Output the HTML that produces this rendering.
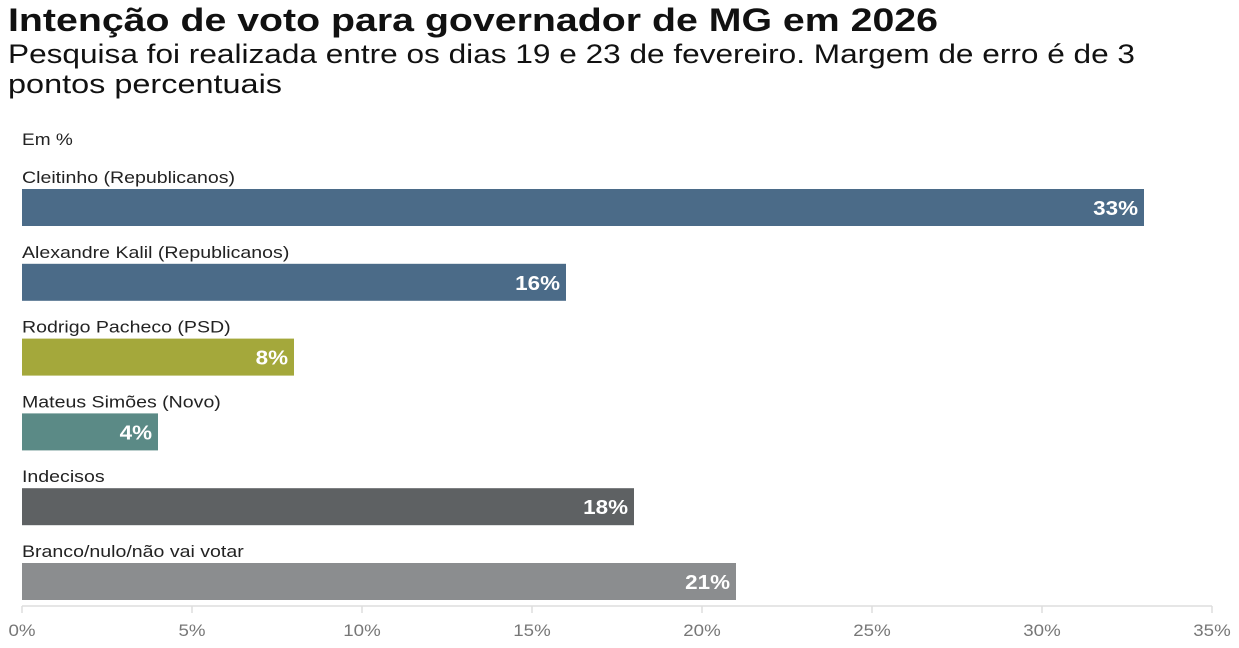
<!DOCTYPE html>
<html><head><meta charset="utf-8"><style>
body{margin:0;width:1239px;height:648px;background:#fff;overflow:hidden;font-family:"Liberation Sans",sans-serif;}
</style></head><body>
<svg id="c" width="1239" height="648" style="position:absolute;left:0;top:0;font-family:'Liberation Sans',sans-serif">
<text x="8" y="31" font-size="32" font-weight="bold" fill="#111" textLength="930" lengthAdjust="spacingAndGlyphs">Intenção de voto para governador de MG em 2026</text>
<text x="8" y="63" font-size="27" fill="#111" textLength="1127" lengthAdjust="spacingAndGlyphs">Pesquisa foi realizada entre os dias 19 e 23 de fevereiro. Margem de erro é de 3</text>
<text x="8" y="93" font-size="27" fill="#111" textLength="274" lengthAdjust="spacingAndGlyphs">pontos percentuais</text>
<text id="unit" x="22" y="145" font-size="17" fill="#222">Em %</text>
</svg>
<script>
const categories=["Cleitinho (Republicanos)","Alexandre Kalil (Republicanos)","Rodrigo Pacheco (PSD)","Mateus Simões (Novo)","Indecisos","Branco/nulo/não vai votar"];
const values=[33,16,8,4,18,21];
const colors=["#4b6b88","#4b6b88","#a4a83b","#5b8a86","#5e6163","#8b8d8f"];
const ticks=[0,5,10,15,20,25,30,35];
const svg=document.getElementById('c');
const NS="http://www.w3.org/2000/svg";
const x=v=>22+v*34;
const rowY=i=>189+i*74.8;
function mk(t,a){const e=document.createElementNS(NS,t);for(const k in a)e.setAttribute(k,a[k]);svg.appendChild(e);return e;}
function widen(e,f){const w=e.getComputedTextLength();e.setAttribute('textLength',w*f);e.setAttribute('lengthAdjust','spacingAndGlyphs');}
widen(document.getElementById('unit'),1.12);
categories.forEach((c,i)=>{
 const y=rowY(i);
 const l=mk('text',{x:22,y:y-6,'font-size':17,fill:'#222'});l.textContent=c;
 
 
 widen(l,1.15);
 const r=mk('rect',{x:x(0),y:y,width:x(values[i])-x(0),height:37,fill:colors[i]});
 
 
 const v=mk('text',{x:x(values[i])-6,y:y+26,'font-size':20,'font-weight':'bold',fill:'#fff','text-anchor':'end'});v.textContent=values[i]+'%';
 
 
 widen(v,1.12);
});
const ax=mk('line',{x1:x(0),x2:x(35),y1:606,y2:606,stroke:'#ddd','stroke-width':1.5});


ticks.forEach(t=>{
 const tk=mk('line',{x1:x(t),x2:x(t),y1:606,y2:613,stroke:'#ddd','stroke-width':1.5});
 
 
 const tl=mk('text',{x:x(t),y:636,'font-size':17,fill:'#777','text-anchor':'middle'});tl.textContent=t+'%';
 
 
 widen(tl,1.1);
});
</script>
</body></html>
